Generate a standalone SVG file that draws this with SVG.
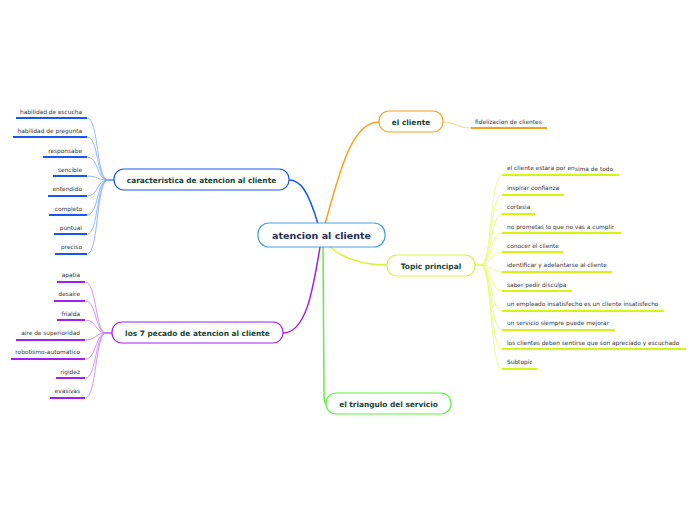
<svg xmlns="http://www.w3.org/2000/svg" width="696" height="520" viewBox="0 0 696 520">
<style>
.node{fill:#fff;stroke-width:1.2}
.nt{font-family:"DejaVu Sans",Verdana,sans-serif;font-weight:bold;font-size:7.4px;fill:#173f34;text-anchor:middle}
.lt{font-family:"DejaVu Sans",Verdana,sans-serif;font-size:5.85px;fill:#333}
.r{text-anchor:end}
.c{fill:none}
.u{fill:none;stroke-width:2}
</style>
<rect width="696" height="520" fill="#fff"/>
<g id="connectors">
<path class="c" d="M289,180 C300,180 308,190 318,224" stroke="#1a56f0" stroke-width="1.5"/>
<path class="c" d="M325,224 C340,170 352,122 379,122" stroke="#f7a21b" stroke-width="1.5"/>
<path class="c" d="M320,247 C313,290 306,333 283,333" stroke="#a020f0" stroke-width="1.5"/>
<path class="c" d="M330,247 C345,260 365,265 387,265" stroke="#d6f53a" stroke-width="1.5"/>
<path class="c" d="M323,247 L324,396 Q324,404 327,404" stroke="#5cf23a" stroke-width="1.5"/>
<path class="c" d="M443,122 C456,122 457,128 471,128" stroke="#fcd08a" stroke-width="1"/>
<g stroke="#7aa6ff" stroke-width="0.8" fill="none">
<path d="M114,180 L108,180 C96,180 99,118 87,118"/>
<path d="M114,180 L108,180 C96,180 99,137 87,137"/>
<path d="M114,180 L108,180 C96,180 99,157 87,157"/>
<path d="M114,180 L108,180 C96,180 99,176 87,176"/>
<path d="M114,180 L108,180 C96,180 99,196 87,196"/>
<path d="M114,180 L108,180 C96,180 99,215 87,215"/>
<path d="M114,180 L108,180 C96,180 99,234 87,234"/>
<path d="M114,180 L108,180 C96,180 99,254 87,254"/>
</g>
<g stroke="#c57cf7" stroke-width="0.8" fill="none">
<path d="M112,333 L106,333 C95,333 97,282 85,282"/>
<path d="M112,333 L106,333 C95,333 97,301 85,301"/>
<path d="M112,333 L106,333 C95,333 97,320 85,320"/>
<path d="M112,333 L106,333 C95,333 97,340 85,340"/>
<path d="M112,333 L106,333 C95,333 97,359 85,359"/>
<path d="M112,333 L106,333 C95,333 97,378 85,378"/>
<path d="M112,333 L106,333 C95,333 97,398 85,398"/>
</g>
<g stroke="#e6fa6e" stroke-width="0.8" fill="none">
<path d="M475,265 L481,265 C492,265 490,175 502,175"/>
<path d="M475,265 L481,265 C492,265 490,195 502,195"/>
<path d="M475,265 L481,265 C492,265 490,214 502,214"/>
<path d="M475,265 L481,265 C492,265 490,233 502,233"/>
<path d="M475,265 L481,265 C492,265 490,252 502,252"/>
<path d="M475,265 L481,265 C492,265 490,272 502,272"/>
<path d="M475,265 L481,265 C492,265 490,291 502,291"/>
<path d="M475,265 L481,265 C492,265 490,311 502,311"/>
<path d="M475,265 L481,265 C492,265 490,330 502,330"/>
<path d="M475,265 L481,265 C492,265 490,349 502,349"/>
<path d="M475,265 L481,265 C492,265 490,369 502,369"/>
</g>
</g>
<g id="central">
<rect class="node" x="258" y="223" width="127" height="24" rx="11" stroke="#4a9fe0"/>
<text x="321.5" y="238.5" font-family="DejaVu Sans,Verdana,sans-serif" font-weight="bold" font-size="9.5px" fill="#1b2c55" text-anchor="middle">atencion al cliente</text>
</g>
<g id="el-cliente">
<rect class="node" x="379" y="111" width="64" height="21" rx="10" stroke="#f7a21b"/>
<text class="nt" x="411" y="124.5">el cliente</text>
</g>
<g id="fidelizacion">
<line class="u" x1="471" y1="128" x2="547" y2="128" stroke="#f7a21b"/>
<text class="lt" x="475" y="124">fidelizacion de clientes</text>
</g>
<g id="caracteristica">
<rect class="node" x="114" y="169" width="175" height="21" rx="10" stroke="#1a56f0"/>
<text class="nt" x="201.5" y="182.5">caracteristica de atencion al cliente</text>
</g>
<g id="car-leaves">
<g stroke="#1a56f0">
<line class="u" x1="16" y1="118" x2="87" y2="118"/>
<line class="u" x1="13" y1="137" x2="87" y2="137"/>
<line class="u" x1="43" y1="157" x2="87" y2="157"/>
<line class="u" x1="53" y1="176" x2="87" y2="176"/>
<line class="u" x1="48" y1="196" x2="87" y2="196"/>
<line class="u" x1="49" y1="215" x2="87" y2="215"/>
<line class="u" x1="54" y1="234" x2="87" y2="234"/>
<line class="u" x1="55" y1="254" x2="87" y2="254"/>
</g>
<text class="lt r" x="82" y="114">habilidad de escucha</text>
<text class="lt r" x="82" y="133">habilidad de pregunta</text>
<text class="lt r" x="82" y="153">responsabe</text>
<text class="lt r" x="82" y="172">sencible</text>
<text class="lt r" x="82" y="191">entendido</text>
<text class="lt r" x="82" y="211">completo</text>
<text class="lt r" x="82" y="230">puntual</text>
<text class="lt r" x="82" y="249">preciso</text>
</g>
<g id="pecados">
<rect class="node" x="112" y="322" width="171" height="21" rx="10" stroke="#a020f0"/>
<text class="nt" x="197.5" y="335.5">los 7 pecado de atencion al cliente</text>
</g>
<g id="pec-leaves">
<g stroke="#a020f0">
<line class="u" x1="57" y1="282" x2="85" y2="282"/>
<line class="u" x1="54" y1="301" x2="85" y2="301"/>
<line class="u" x1="57" y1="320" x2="85" y2="320"/>
<line class="u" x1="16" y1="340" x2="85" y2="340"/>
<line class="u" x1="11" y1="359" x2="85" y2="359"/>
<line class="u" x1="56" y1="378" x2="85" y2="378"/>
<line class="u" x1="50" y1="398" x2="85" y2="398"/>
</g>
<text class="lt r" x="80" y="277">apatia</text>
<text class="lt r" x="80" y="296">desaire</text>
<text class="lt r" x="80" y="316">frialda</text>
<text class="lt r" x="80" y="335">aire de superioridad</text>
<text class="lt r" x="80" y="354">robotismo-automatico</text>
<text class="lt r" x="80" y="374">rigidez</text>
<text class="lt r" x="80" y="393">evasivas</text>
</g>
<g id="topic">
<rect class="node" x="387" y="255" width="88" height="21" rx="10" stroke="#d6f53a"/>
<text class="nt" x="431" y="268.5">Topic principal</text>
</g>
<g id="topic-leaves">
<g stroke="#d2f514">
<line class="u" x1="502" y1="175" x2="619" y2="175"/>
<line class="u" x1="502" y1="195" x2="564" y2="195"/>
<line class="u" x1="502" y1="214" x2="535" y2="214"/>
<line class="u" x1="502" y1="233" x2="621" y2="233"/>
<line class="u" x1="502" y1="252" x2="563" y2="252"/>
<line class="u" x1="502" y1="272" x2="612" y2="272"/>
<line class="u" x1="502" y1="291" x2="572" y2="291"/>
<line class="u" x1="502" y1="311" x2="664" y2="311"/>
<line class="u" x1="502" y1="330" x2="615" y2="330"/>
<line class="u" x1="502" y1="349" x2="686" y2="349"/>
<line class="u" x1="502" y1="369" x2="537" y2="369"/>
</g>
<text class="lt" x="507" y="170">el cliente estara por en</text>
<text class="lt" x="575" y="171">sima de todo</text>
<text class="lt" x="507" y="190">inspirar confianza</text>
<text class="lt" x="507" y="209">cortesia</text>
<text class="lt" x="507" y="229">no prometas lo que no vas a cumplir</text>
<text class="lt" x="507" y="248">conocer el cliente</text>
<text class="lt" x="507" y="267">identificar y adelantarse al cliente</text>
<text class="lt" x="507" y="287">saber pedir disculpa</text>
<text class="lt" x="507" y="306">un empleado insatisfecho es un cliente insatisfecho</text>
<text class="lt" x="507" y="325">un servicio siempre puede mejorar</text>
<text class="lt" x="507" y="345">los clientes deben sentirse que son apreciado y escuchado</text>
<text class="lt" x="507" y="364">Subtopic</text>
</g>
<g id="triangulo">
<rect class="node" x="326" y="393" width="125" height="21" rx="10" stroke="#5cf23a"/>
<text class="nt" x="388.5" y="406.5">el triangulo del servicio</text>
</g>
</svg>
